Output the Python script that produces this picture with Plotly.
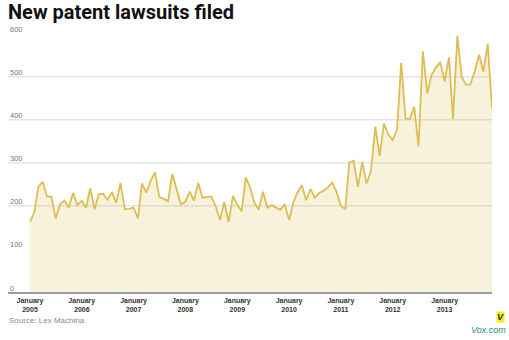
import pandas as pd
import plotly.graph_objects as go

# Monthly new patent lawsuits, Jan 2005 - Dec 2013
months = pd.date_range("2005-01-01", periods=108, freq="MS")
lawsuits = [
    163, 185, 244, 256, 222, 221, 171, 204, 212, 196, 230, 202,   # 2005
    212, 195, 241, 192, 227, 228, 214, 232, 207, 253, 192, 193,   # 2006
    196, 171, 252, 231, 258, 278, 221, 216, 211, 274, 239, 203,   # 2007
    210, 233, 212, 253, 219, 221, 222, 200, 167, 209, 163, 223,   # 2008
    203, 187, 266, 243, 208, 191, 233, 196, 202, 196, 191, 204,   # 2009
    167, 209, 231, 248, 213, 239, 219, 230, 235, 243, 254, 233,   # 2010
    200, 193, 300, 305, 244, 302, 252, 281, 384, 316, 391, 366,   # 2011
    353, 378, 532, 402, 402, 430, 338, 559, 461, 504, 521, 534,   # 2012
    489, 545, 402, 595, 500, 481, 482, 512, 551, 512, 576, 426,   # 2013
]
year_ticks = pd.date_range("2005-01-01", periods=9, freq="12MS")
year_labels = [f"January<br>{d.year}" for d in year_ticks]
y_ticks = [0, 100, 200, 300, 400, 500, 600]
grid_values = [200, 300, 400, 500]

fig = go.Figure()
fig.add_trace(go.Scatter(
    x=months, y=lawsuits, mode="lines",
    line=dict(color="rgb(222,190,80)", width=1.8),
    fill="tozeroy", fillcolor="rgba(222,190,80,0.2)",
    hoverinfo="skip",
))

for g in grid_values:
    fig.add_shape(type="line", xref="paper", yref="y", x0=0, x1=1, y0=g, y1=g,
                  line=dict(color="#e4e4e4", width=1.5), layer="below")

for v in y_ticks:
    fig.add_annotation(text=str(v), xref="paper", yref="y", x=0, y=v, yshift=4,
                       xanchor="left", yanchor="middle", showarrow=False,
                       font=dict(size=7.5, color="#777"))

fig.update_layout(
    width=509, height=340,
    margin=dict(l=8, r=17, t=25, b=48),
    paper_bgcolor="white", plot_bgcolor="white",
    showlegend=False,
    font=dict(family="Liberation Sans, Arial, sans-serif"),
    xaxis=dict(
        range=["2004-07-30", "2013-12-01"],
        tickvals=year_ticks, ticktext=year_labels,
        tickfont=dict(size=7, color="#333", weight="bold"),
        showgrid=False, zeroline=False,
        showline=True, linecolor="#9a9a9a", linewidth=1.5,
        ticks="", ticklabelstandoff=1,
    ),
    yaxis=dict(
        range=[0, 620], showticklabels=False,
        showgrid=False, zeroline=False, showline=False, ticks="",
    ),
)

fig.add_annotation(text="<b>New patent lawsuits filed</b>", xref="paper", yref="paper",
                   x=-0.002, y=1.0, yshift=25, xanchor="left", yanchor="top", showarrow=False,
                   height=22, valign="middle", borderpad=0,
                   font=dict(family="Roboto, Liberation Sans, sans-serif", size=20, color="#111", weight=900))
fig.add_annotation(text="Source: Lex Machina", xref="paper", yref="paper",
                   x=-0.002, y=0, yshift=-28, xanchor="left", yanchor="middle", showarrow=False,
                   font=dict(size=8, color="#8a8a8a"))
fig.add_annotation(text="<b><i>V</i></b>", xref="paper", yref="paper",
                   x=1.0, y=0, xshift=8, yshift=-25, xanchor="center", yanchor="middle", showarrow=False,
                   bgcolor="#f2ea1a", borderpad=0,
                   font=dict(size=9, color="#1d3b2a"))
fig.add_annotation(text="<i>Vox.com</i>", xref="paper", yref="paper",
                   x=1.0, y=0, xshift=16, yshift=-38, xanchor="right", yanchor="middle", showarrow=False,
                   font=dict(size=9, color="#2a8c8c"))

fig.write_html("out.html")
